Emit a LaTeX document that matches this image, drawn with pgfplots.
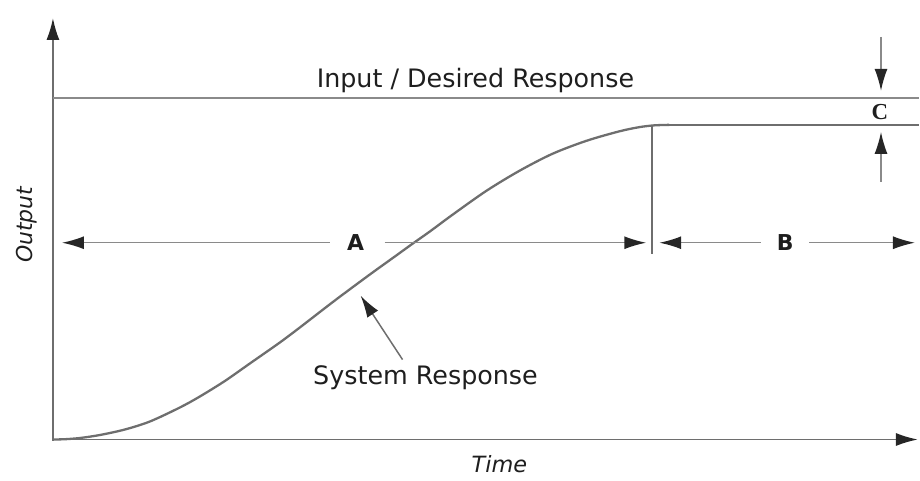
\documentclass[border=0pt]{standalone}
\usepackage{fontspec}
\usepackage{pgfplots}
\pgfplotsset{compat=1.18}
\usetikzlibrary{arrows.meta}
\setmainfont{DejaVu Sans}
\newfontfamily\serif{Liberation Serif}
\definecolor{ln}{HTML}{8A8A8A}
\definecolor{cv}{HTML}{6E6E6E}
\definecolor{tx}{HTML}{1E1E1E}
\definecolor{ah}{HTML}{262626}
\tikzset{
  hd/.style={-{Latex[length=22bp,width=13bp,color=ah]}},
  hdl/.style={{Latex[length=22bp,width=13bp,color=ah]}-},
}
\begin{document}
\begin{tikzpicture}
\begin{axis}[
  hide axis, scale only axis,
  width=920bp, height=481bp,
  xmin=0, xmax=920, ymin=0, ymax=481,
  y dir=reverse, clip=false,
]
\path (axis cs:0,0) rectangle (axis cs:920,481);
% axes
\addplot[color=cv, line width=1.8bp, hd] coordinates {(53,441) (53,18)};
\addplot[color=cv, line width=1.8bp, hd] coordinates {(53,440) (919,440)};
% input line
\addplot[color=ln, line width=1.7bp] coordinates {(53,98) (920,98)};
% system response
\addplot[color=cv, line width=2.3bp, smooth] coordinates {
(53,440) (65,439.7) (80,438.5) (100,435.5) (125,430) (150,422) (180,408) (200,397)
(225,381.5) (250,364) (280,343) (300,328) (335,301) (370,275) (395,257)
(413,244) (430,232) (453,215) (487,191) (520,171) (553,154) (587,141)
(620,131.5) (640,127.3) (655,125.5) (670,125)};
\addplot[color=cv, line width=2.1bp] coordinates {(668,125) (920,125)};
% vertical line
\addplot[color=cv, line width=1.6bp] coordinates {(653,125) (653,254)};
% A arrows
\addplot[color=ln, line width=1.5bp, hdl] coordinates {(62,243) (330,243)};
\addplot[color=ln, line width=1.5bp, hd] coordinates {(385,243) (647,243)};
% B arrows
\addplot[color=ln, line width=1.5bp, hdl] coordinates {(660,243) (762,243)};
\addplot[color=ln, line width=1.5bp, hd] coordinates {(810,243) (916,243)};
% C arrows
\addplot[color=ln, line width=1.5bp, hd] coordinates {(882,37) (882,91)};
\addplot[color=ln, line width=1.5bp, hd] coordinates {(882,182) (882,132)};
% system response pointer
\addplot[color=cv, line width=1.5bp, hd] coordinates {(403,360) (361,296)};
% texts
\node[anchor=base, text=tx, font=\fontsize{25.5}{30}\selectfont] at (axis cs:476,88) {Input / Desired Response};
\node[anchor=base, text=tx, font=\fontsize{25.5}{30}\selectfont] at (axis cs:426,385) {System Response};
\node[anchor=base, text=tx, font=\fontsize{22.5}{27}\selectfont\itshape] at (axis cs:500,473) {Time};
\node[anchor=base, rotate=90, text=tx, font=\fontsize{22}{27}\selectfont\itshape] at (axis cs:33,225) {Output};
\node[text=tx, font=\fontsize{22}{27}\selectfont\bfseries] at (axis cs:356,243) {A};
\node[text=tx, font=\fontsize{22}{27}\selectfont\bfseries] at (axis cs:786,243) {B};
\node[text=tx, font=\fontsize{23}{27}\selectfont\serif\bfseries] at (axis cs:881,112) {C};
\end{axis}
\end{tikzpicture}
\end{document}
